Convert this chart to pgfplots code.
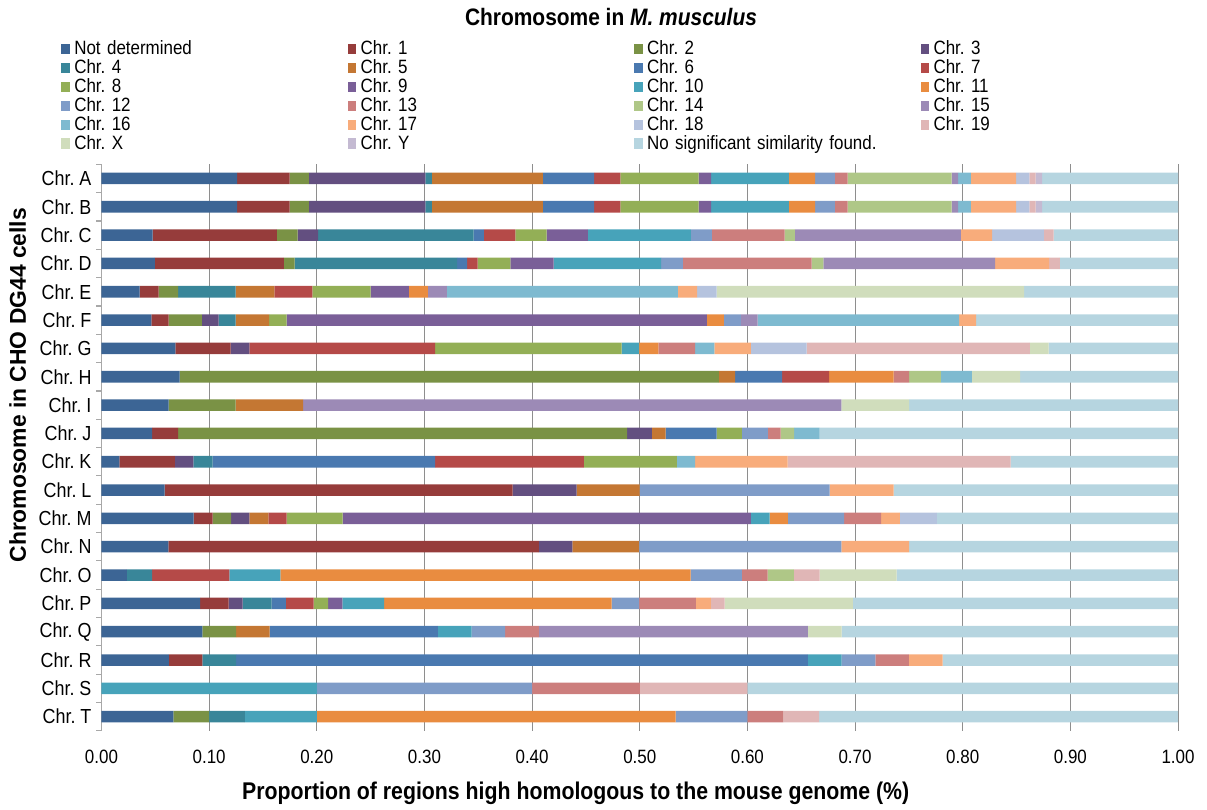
\documentclass[border=0pt]{standalone}
\usepackage{fontspec}
\setmainfont{Liberation Sans}[FakeStretch=0.88]
\newfontfamily\ylfont{Liberation Sans}
\frenchspacing
\usepackage{pgfplots}
\usepackage{pgfplotstable}
\pgfplotsset{compat=1.18}

\definecolor{cND}{HTML}{3C6595}
\definecolor{cA}{HTML}{963C3B}
\definecolor{cB}{HTML}{7A9245}
\definecolor{cC}{HTML}{634F80}
\definecolor{cD}{HTML}{398699}
\definecolor{cE}{HTML}{C47733}
\definecolor{cF}{HTML}{4A79B0}
\definecolor{cG}{HTML}{B54A48}
\definecolor{cH}{HTML}{93AF56}
\definecolor{cI}{HTML}{7A5F98}
\definecolor{cJ}{HTML}{47A3BA}
\definecolor{cK}{HTML}{E98C40}
\definecolor{cL}{HTML}{7F9CC8}
\definecolor{cM}{HTML}{CC7E7D}
\definecolor{cN}{HTML}{AFC787}
\definecolor{cO}{HTML}{9C8AB6}
\definecolor{cP}{HTML}{7EBAD0}
\definecolor{cQ}{HTML}{F8AC7B}
\definecolor{cR}{HTML}{B5C3DE}
\definecolor{cS}{HTML}{E0B6B6}
\definecolor{cX}{HTML}{D0DDBC}
\definecolor{cY}{HTML}{C4BAD2}
\definecolor{cNS}{HTML}{B6D5E0}
\definecolor{gridc}{HTML}{8E8E8E}
\definecolor{axc}{HTML}{A8A8A8}

\pgfplotstableread{
y nd c1 c2 c3 c4 c5 c6 c7 c8 c9 c10 c11 c12 c13 c14 c15 c16 c17 c18 c19 cx cy ns
0 0.126 0.0488 0.0179 0.1081 0.0062 0.1029 0.0478 0.0243 0.0727 0.0115 0.0724 0.0242 0.0185 0.0119 0.0965 0.006 0.0119 0.042 0.0123 0.0059 0 0.006 0.1263
1 0.126 0.0488 0.0179 0.1081 0.0062 0.1029 0.0478 0.0243 0.0727 0.0115 0.0724 0.0242 0.0185 0.0119 0.0965 0.006 0.0119 0.042 0.0123 0.0059 0 0.006 0.1263
2 0.0474 0.1156 0.0191 0.0192 0.1445 0 0.0095 0.0291 0.029 0.0383 0.0959 0 0.0195 0.0675 0.0096 0.1541 0 0.0291 0.0479 0.0092 0 0 0.1155
3 0.0496 0.1199 0.01 0 0.1508 0 0.0094 0.0097 0.0305 0.04 0.0999 0 0.0202 0.1197 0.0109 0.1594 0 0.0503 0 0.0099 0 0 0.1098
4 0.0354 0.0177 0.018 0 0.0535 0.036 0 0.0354 0.054 0.0355 0 0.0177 0 0 0 0.0177 0.2145 0.018 0.018 0 0.2857 0 0.1429
5 0.0463 0.0161 0.0309 0.0155 0.0158 0.0312 0 0 0.0161 0.3905 0 0.0158 0.0158 0 0 0.0154 0.1873 0.0157 0 0 0 0 0.1876
6 0.0686 0.0514 0 0.0174 0 0 0 0.1726 0.1731 0 0.0164 0.0179 0 0.0341 0 0 0.0177 0.0341 0.0518 0.2072 0.0174 0 0.1203
7 0.0727 0 0.5007 0 0 0.0151 0.0437 0.0438 0 0 0 0.0598 0 0.0145 0.0293 0 0.029 0 0 0 0.0447 0 0.1467
8 0.0624 0 0.0622 0 0 0.0627 0 0 0 0 0 0 0 0 0 0.5 0 0 0 0 0.063 0 0.2497
9 0.047 0.0241 0.4172 0.023 0 0.0128 0.0473 0 0.0235 0 0 0 0.0241 0.0119 0.0126 0 0.0235 0 0 0 0 0 0.333
10 0.0167 0.0515 0 0.0171 0.018 0 0.2066 0.1381 0.0864 0 0 0 0 0 0 0 0.0171 0.0859 0 0.2072 0 0 0.1554
11 0.0586 0.3234 0 0.0593 0 0.0585 0 0 0 0 0 0 0.1765 0 0 0 0 0.0595 0 0 0 0 0.2642
12 0.0856 0.0177 0.0171 0.017 0 0.0177 0 0.0168 0.0521 0.3793 0.0174 0.017 0.0521 0.0345 0 0 0 0.0173 0.0345 0 0 0 0.2239
13 0.0621 0.3441 0 0.0312 0 0.0621 0 0 0 0 0 0 0.1878 0 0 0 0 0.063 0 0 0 0 0.2497
14 0.0235 0 0 0 0.0235 0 0 0.0718 0 0 0.0473 0.3812 0.0476 0.0238 0.0245 0 0 0 0 0.0238 0.0717 0 0.2613
15 0.0917 0.0264 0 0.0129 0.027 0 0.0132 0.0258 0.0135 0.0132 0.0389 0.2112 0.0257 0.0526 0 0 0 0.0139 0 0.0128 0.1191 0 0.3021
16 0.09375 0 0.03125 0 0 0.03125 0.15625 0 0 0 0.03125 0 0.03125 0.03125 0 0.25 0 0 0 0 0.03125 0 0.3125
17 0.0625 0.03125 0 0 0.03125 0 0.53125 0 0 0 0.03125 0 0.03125 0.03125 0 0 0 0.03125 0 0 0 0 0.21875
18 0 0 0 0 0 0 0 0 0 0 0.2 0 0.2 0.1 0 0 0 0 0 0.1 0 0 0.4
19 0.0667 0 0.0333 0 0.0333 0 0 0 0 0 0.0667 0.3333 0.0667 0.0333 0 0 0 0 0 0.0333 0 0 0.3333
}\data

\pgfplotsset{every axis plot/.append style={draw=none,
  legend image code/.code={\fill[##1, draw=none] (0pt,0.6pt) rectangle (6.3pt,8.3pt);}}}

\begin{document}
\begin{tikzpicture}
\begin{axis}[
  scale only axis,
  width=810pt, height=426.3pt,
  xbar stacked, bar width=8.7pt,
  xmin=0, xmax=1, ymin=-0.5, ymax=19.5, y dir=reverse,
  xtick={0,0.1,0.2,0.3,0.4,0.5,0.6,0.7,0.8,0.9,1},
  ytick={0,...,19},
  yticklabels={Chr. A,Chr. B,Chr. C,Chr. D,Chr. E,Chr. F,Chr. G,Chr. H,Chr. I,Chr. J,Chr. K,Chr. L,Chr. M,Chr. N,Chr. O,Chr. P,Chr. Q,Chr. R,Chr. S,Chr. T},
  minor ytick={-0.5,0.5,...,19.5},
  tick label style={font=\fontsize{14.5}{17}\selectfont},
  yticklabel style={inner sep=0pt, anchor=east, xshift=-7.35pt, font=\fontsize{15.3}{17}\selectfont},
  xticklabel style={inner sep=0pt, anchor=north, yshift=-14pt,
    /pgf/number format/fixed, /pgf/number format/fixed zerofill,
    /pgf/number format/precision=2, /pgf/number format/assume math mode=true},
  axis x line*=bottom, axis y line*=left,
  x axis line style={draw=none},
  y axis line style={axc, line width=0.9pt},
  major tick length=0pt, minor tick length=3.75pt,
  every minor y tick/.append style={axc, line width=0.9pt},
  tick align=outside,
  xmajorgrids, major grid style={gridc, line width=0.8pt},
  title={\bfseries Chromosome in \textit{M. musculus}},
  title style={at={(axis description cs:0.4733,1)}, anchor=base, yshift=98.4pt, font=\fontsize{17.9}{20}\selectfont},
  xlabel={\bfseries Proportion of regions high homologous to the mouse genome (\%)},
  xlabel style={at={(axis description cs:0.4405,0)}, anchor=base, yshift=-51.8pt, font=\fontsize{18.2}{20}\selectfont},
  ylabel={\bfseries Chromosome in CHO DG44 cells},
  every axis y label/.style={at={(axis description cs:0,0.61)}, xshift=-63pt, rotate=90, anchor=center, font=\ylfont\fontsize{17.2}{20}\selectfont},
  legend columns=4,
  legend style={at={(axis description cs:0,1)}, anchor=north west, xshift=-30.2pt, yshift=93.35pt,
    draw=none, fill=none, inner sep=0pt, outer sep=0pt, column sep=0pt, row sep=0.25pt,
    font=\fontsize{14.5}{17}\selectfont,
    nodes={inner sep=0pt, anchor=base west, text height=11pt, text depth=3pt},
    /tikz/every odd column/.append style={column sep=3.45pt},
    /tikz/every even column/.append style={text width=205.75pt, align=left}},
]
\addplot[fill=cND] table[x=nd,y=y]{\data};
\addplot[fill=cA] table[x=c1,y=y]{\data};
\addplot[fill=cB] table[x=c2,y=y]{\data};
\addplot[fill=cC] table[x=c3,y=y]{\data};
\addplot[fill=cD] table[x=c4,y=y]{\data};
\addplot[fill=cE] table[x=c5,y=y]{\data};
\addplot[fill=cF] table[x=c6,y=y]{\data};
\addplot[fill=cG] table[x=c7,y=y]{\data};
\addplot[fill=cH] table[x=c8,y=y]{\data};
\addplot[fill=cI] table[x=c9,y=y]{\data};
\addplot[fill=cJ] table[x=c10,y=y]{\data};
\addplot[fill=cK] table[x=c11,y=y]{\data};
\addplot[fill=cL] table[x=c12,y=y]{\data};
\addplot[fill=cM] table[x=c13,y=y]{\data};
\addplot[fill=cN] table[x=c14,y=y]{\data};
\addplot[fill=cO] table[x=c15,y=y]{\data};
\addplot[fill=cP] table[x=c16,y=y]{\data};
\addplot[fill=cQ] table[x=c17,y=y]{\data};
\addplot[fill=cR] table[x=c18,y=y]{\data};
\addplot[fill=cS] table[x=c19,y=y]{\data};
\addplot[fill=cX] table[x=cx,y=y]{\data};
\addplot[fill=cY] table[x=cy,y=y]{\data};
\addplot[fill=cNS] table[x=ns,y=y]{\data};
\legend{Not determined,Chr. 1,Chr. 2,Chr. 3,Chr. 4,Chr. 5,Chr. 6,Chr. 7,Chr. 8,Chr. 9,Chr. 10,Chr. 11,Chr. 12,Chr. 13,Chr. 14,Chr. 15,Chr. 16,Chr. 17,Chr. 18,Chr. 19,Chr. X,Chr. Y,No significant similarity found.}
\end{axis}
\path (current axis.south west) ++(-76.35pt,-53.85pt) coordinate (bl);
\path (current axis.south west) ++(828.9pt,549.9pt) coordinate (tr);
\path (bl) rectangle (tr);
\end{tikzpicture}
\end{document}
